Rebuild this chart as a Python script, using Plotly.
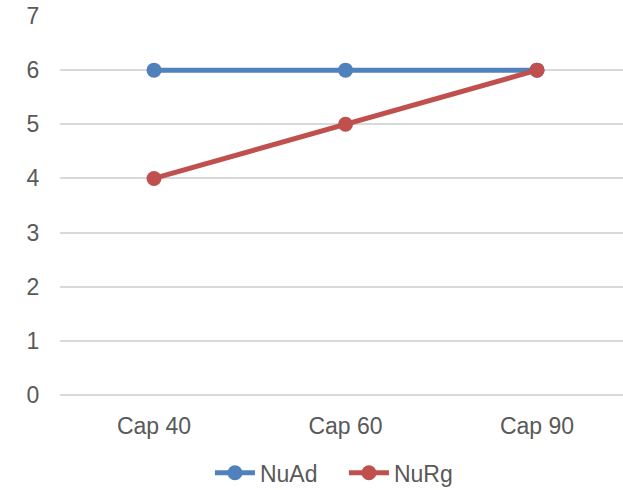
import plotly.graph_objects as go

categories = ["Cap 40", "Cap 60", "Cap 90"]
nuad = [6, 6, 6]
nurg = [4, 5, 6]
y_ticks = [0, 1, 2, 3, 4, 5, 6, 7]

BLUE = "#4F81BD"
RED = "#C0504D"
TEXT = "#595959"
GRID = "#D9D9D9"
FONT = "Liberation Sans, Arial, sans-serif"
FS = 23

fig = go.Figure()
fig.add_trace(go.Scatter(
    x=categories, y=nuad, name="NuAd", mode="lines+markers",
    line=dict(color=BLUE, width=5), marker=dict(size=15, color=BLUE),
))
fig.add_trace(go.Scatter(
    x=categories, y=nurg, name="NuRg", mode="lines+markers",
    line=dict(color=RED, width=5), marker=dict(size=15, color=RED),
))

fig.update_layout(
    width=623, height=490,
    margin=dict(l=60, r=0, t=16, b=95, autoexpand=False),
    paper_bgcolor="white", plot_bgcolor="white",
    font=dict(family=FONT, size=FS, color=TEXT),
    showlegend=True,
    legend=dict(
        orientation="h",
        xref="container", x=0.337, xanchor="left",
        yref="container", y=0.035, yanchor="middle",
        font=dict(size=FS, color=TEXT), itemwidth=40,
        entrywidth=79, entrywidthmode="pixels",
        tracegroupgap=0, bgcolor="rgba(0,0,0,0)",
    ),
    xaxis=dict(
        type="category", range=[-0.491, 2.449],
        showgrid=False, zeroline=False, showline=False,
        ticks="outside", ticklen=10, tickcolor="rgba(0,0,0,0)",
        tickfont=dict(size=FS, color=TEXT),
    ),
    yaxis=dict(
        range=[0, 7], tickvals=y_ticks,
        showgrid=True, gridcolor=GRID, gridwidth=2,
        zeroline=True, zerolinecolor=GRID, zerolinewidth=2,
        showline=False,
        ticks="outside", ticklen=15, tickcolor="rgba(0,0,0,0)",
        tickfont=dict(size=FS, color=TEXT),
    ),
)

fig.write_html("out.html")
